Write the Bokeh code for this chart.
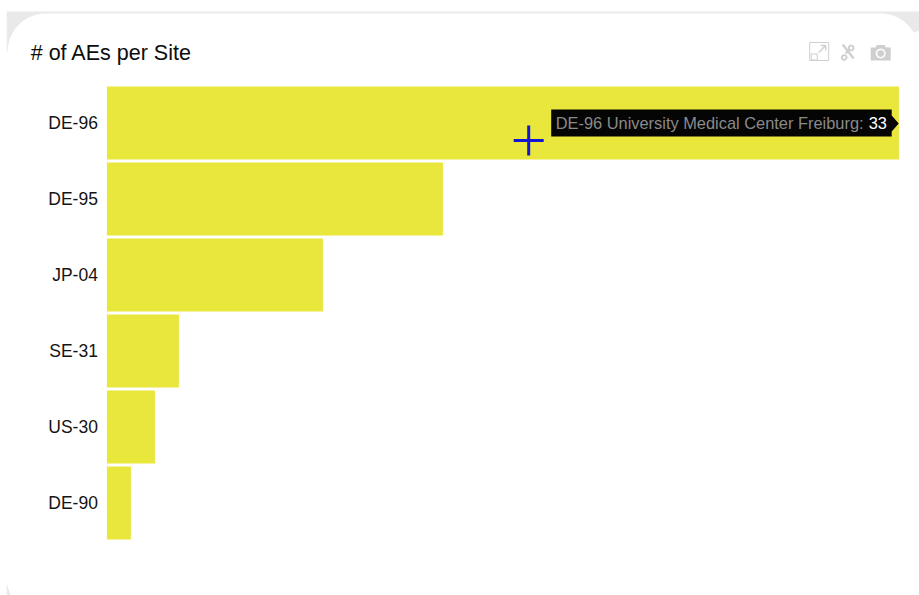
import math
from bokeh.plotting import figure
from bokeh.models import Range1d, Label, PolyAnnotation, FixedTicker
from bokeh.embed import file_html
from bokeh.resources import INLINE

sites = ["DE-96", "DE-95", "JP-04", "SE-31", "US-30", "DE-90"]
ae_counts = [33, 14, 9, 3, 2, 1]
title_text = "# of AEs per Site"
tooltip_site = "DE-96 University Medical Center Freiburg:"
tooltip_value = "33"

W, H = 919, 595
X0, PX_PER_AE = 106.4, 24
Y0, PX_PER_ROW = 122.5, 76
rows = list(range(len(sites)))

p = figure(width=W, height=H, output_backend="svg", toolbar_location=None,
           x_range=Range1d(-X0 / PX_PER_AE, (W - X0) / PX_PER_AE),
           y_range=Range1d((H - Y0) / PX_PER_ROW, -Y0 / PX_PER_ROW),
           min_border=0, min_border_left=0, min_border_right=0, min_border_top=0, min_border_bottom=0)
p.outline_line_color = None
p.background_fill_color = "white"
p.border_fill_color = "white"
p.grid.visible = False
p.xaxis.visible = False
ax = p.yaxis[0]
ax.fixed_location = 0
ax.ticker = FixedTicker(ticks=rows)
ax.major_label_overrides = {i: s for i, s in zip(rows, sites)}
ax.axis_line_color = None
ax.major_tick_line_color = None
ax.minor_tick_line_color = None
ax.major_tick_out = 0
ax.major_tick_in = 0
ax.major_label_text_font = "Liberation Sans"
ax.major_label_text_font_size = "17.5px"
ax.major_label_text_color = "#141414"
ax.major_label_standoff = 9

p.hbar(y=rows, right=ae_counts, left=0, height=73 / PX_PER_ROW, fill_color="#eae73c", line_color=None)

DX = -0.8

def poly(pts, color):
    p.add_layout(PolyAnnotation(xs=[a + DX for a, _ in pts], ys=[H - b for _, b in pts],
                                xs_units="screen", ys_units="screen",
                                fill_color=color, fill_alpha=1, line_color=None, line_alpha=0))

def arc(cx, cy, r, a0, a1, n=24):
    return [(cx + r * math.cos(math.radians(a0 + (a1 - a0) * i / n)),
             cy + r * math.sin(math.radians(a0 + (a1 - a0) * i / n))) for i in range(n + 1)]

def thick(x0, y0, x1, y1, w, color):
    dx, dy = x1 - x0, y1 - y0
    l = math.hypot(dx, dy)
    nx, ny = -dy / l * w / 2, dx / l * w / 2
    poly([(x0 + nx, y0 + ny), (x1 + nx, y1 + ny), (x1 - nx, y1 - ny), (x0 - nx, y0 - ny)], color)

def label(x, y, text, font, size, color, align="left", baseline="middle"):
    p.add_layout(Label(x=x + DX, y=H - y, x_units="screen", y_units="screen", text=text,
                       text_font=font, text_font_size=size, text_color=color,
                       text_align=align, text_baseline=baseline))

# card edge
GREY = "#e9e9e9"
poly([(7, 11), (920, 11), (920, 30)] + arc(881, 51, 38, -30, -90) + arc(46, 51, 38, -90, -180) + [(7, 51)], GREY)
poly([(7, 583), (11, 595), (7, 595)], GREY)

# title
label(31, 52, title_text, "Liberation Sans", "21.5px", "#0c0c0c")

# toolbar icons
IC = "#cfcfcf"
for a in [(810, 42, 829, 42), (810, 60, 829, 60), (810, 42, 810, 60), (829, 42, 829, 60)]:
    thick(a[0], a[1], a[2], a[3], 1, IC)
poly([(811, 53), (818, 53), (818, 60), (811, 60)], IC)
poly([(812, 54), (817, 54), (817, 59), (812, 59)], "white")
poly([(812, 43), (812, 52), (819, 52), (819, 59), (828, 59), (828, 43)], "white")
thick(819, 52, 826, 45, 1.4, IC)
thick(821, 45, 826, 45, 1.4, IC)
thick(826, 45, 826, 50, 1.4, IC)
thick(843, 44, 854, 58, 2.2, IC)
thick(853, 45, 846, 53, 2.2, IC)
poly(arc(844.5, 57, 3.3, 0, 360), IC)
poly(arc(844.5, 57, 1.4, 0, 360), "white")
poly(arc(851.5, 47.5, 3.3, 0, 360), IC)
poly(arc(851.5, 47.5, 1.4, 0, 360), "white")
poly([(871, 47), (876, 47), (877, 44.5), (885, 44.5), (886, 47), (891, 47), (891, 60), (871, 60)], IC)
poly(arc(881, 53, 5, 0, 360), "white")
poly(arc(881, 53, 3.4, 0, 360), IC)

# crosshair
CROSS = "#1414d4"
thick(514, 140, 544, 140, 3, CROSS)
thick(529, 125, 529, 155, 3, CROSS)

# tooltip
poly([(551.5, 109), (892, 109), (892, 115), (899, 123), (892, 131), (892, 136), (551.5, 136)], "#050505")
label(556, 122.5, tooltip_site, "Liberation Sans", "16.4px", "#8a8a8a")
label(869, 122.5, tooltip_value, "Liberation Sans", "16.4px", "#ffffff")

open("out.html", "w").write(file_html(p, INLINE))
